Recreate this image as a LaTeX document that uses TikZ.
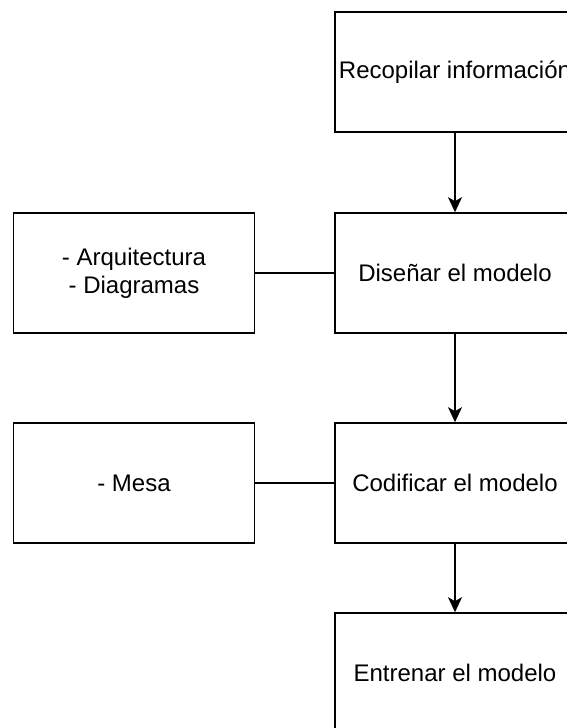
\documentclass[tikz,border=0pt]{standalone}
\usepackage{fontspec}
\setmainfont{Liberation Sans}
\usetikzlibrary{arrows.meta, positioning}
\tikzset{paso/.style={draw,line width=1.6pt,minimum width=240pt,minimum height=120pt,
                      inner sep=0pt,align=center,font=\fontsize{24}{28}\selectfont},
         nota/.style={paso,minimum width=241pt},
         >={Stealth[length=15pt,width=14pt,inset=4pt]}}

\begin{document}
\begin{tikzpicture}[x=1pt,y=-1pt,line width=1.6pt]
        \useasboundingbox (0,0) rectangle (566,728);

        \node[paso](recopilar)at(455,72){Recopilar información};
        \node[paso](disenar)at(455,273){Diseñar el modelo};
        \node[paso](codificar)at(455,483){Codificar el modelo};
        \node[paso](entrenar)at(455,673){Entrenar el modelo};

        \node[nota](arq)at(134,273){- Arquitectura\\- Diagramas};
        \node[nota](mesa)at(134,483){- Mesa};

        \draw[->](recopilar.south)--(disenar.north);
        \draw[->](disenar.south)--(codificar.north);
        \draw[->](codificar.south)--(entrenar.north);

        \draw(arq.east)--(disenar.west);
        \draw(mesa.east)--(codificar.west);
    \end{tikzpicture}
\end{document}
